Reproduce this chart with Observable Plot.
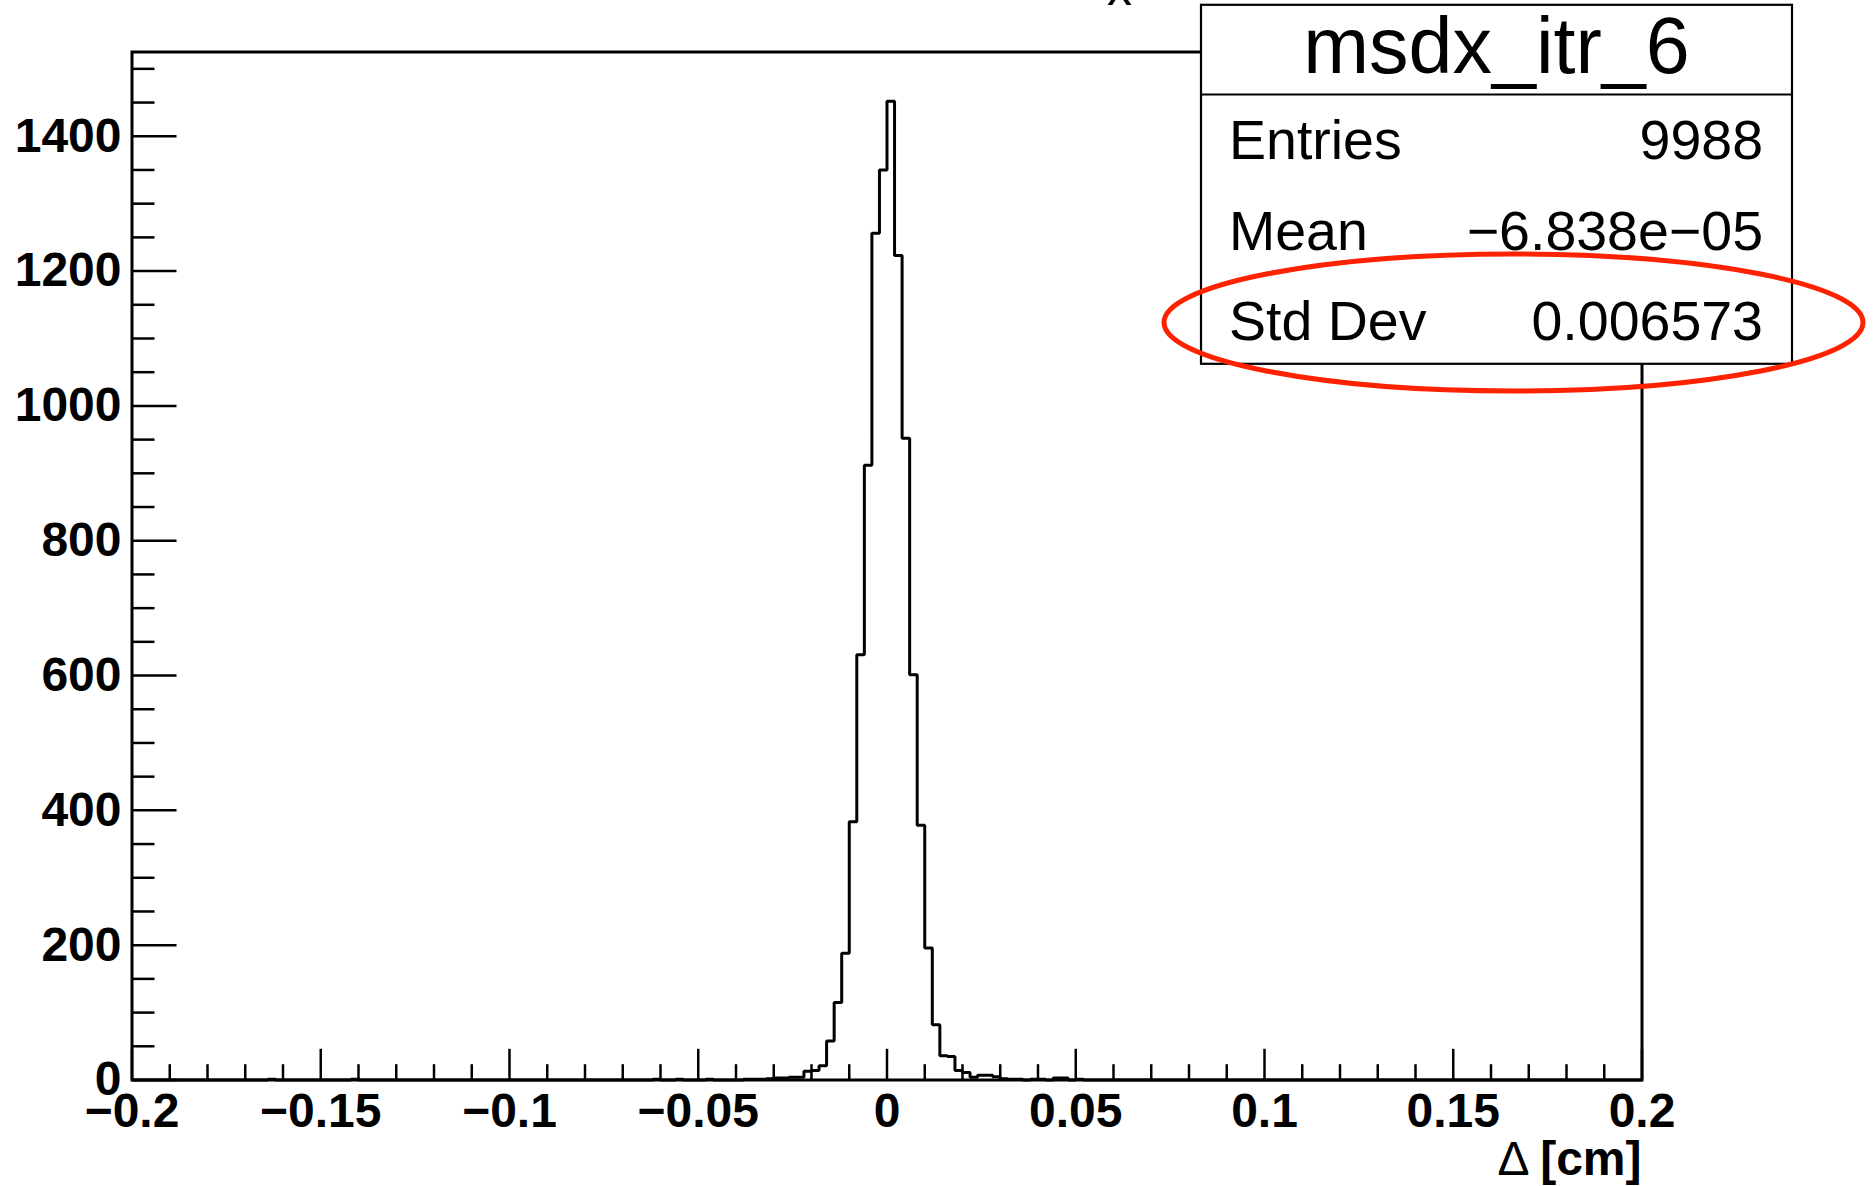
<!DOCTYPE html>
<html><head><meta charset="utf-8">
<script src="https://cdn.jsdelivr.net/npm/d3@7"></script>
<script src="https://cdn.jsdelivr.net/npm/@observablehq/plot@0.6"></script>
<style>
html,body{margin:0;padding:0;background:#fff;}
#chart svg{display:block;}
</style></head><body><div id="chart"></div>
<script>
// ---- data (bin width 0.002 cm) ----
const binLowEdges = [-0.164,-0.142,-0.062,-0.056,-0.048,-0.038,-0.036,-0.034,-0.032,-0.030,-0.028,-0.026,-0.024,-0.022,-0.020,-0.018,-0.016,-0.014,-0.012,-0.010,-0.008,-0.006,-0.004,-0.002,0.000,0.002,0.004,0.006,0.008,0.010,0.012,0.014,0.016,0.018,0.020,0.022,0.024,0.026,0.028,0.030,0.032,0.034,0.038,0.040,0.044,0.046,0.050];
const binCounts   = [1,1,1,1,1,1,1,1,2,3,3,4,4,13,14,21,58,115,188,383,631,912,1256,1350,1452,1223,952,601,378,196,82,36,35,14,11,4,7,7,5,2,1,1,1,1,3,3,1];
const xRange = [-0.2, 0.2];
const binWidth = 0.002;
const yMax = 1525;
const xMajorTicks = [-0.2,-0.15,-0.1,-0.05,0,0.05,0.1,0.15,0.2];
const xTickLabels = ["\u22120.2","\u22120.15","\u22120.1","\u22120.05","0","0.05","0.1","0.15","0.2"];
const yMajorTicks = [0,200,400,600,800,1000,1200,1400];
const yTickLabels = ["0","200","400","600","800","1000","1200","1400"];
const xAxisTitle = "[cm]";
const statsTitle = "msdx_itr_6";
const statsNames = ["Entries","Mean","Std Dev"];
const statsValues = ["9988","\u22126.838e\u221205","0.006573"];

// ---- build histogram outline ----
const nBins = Math.round((xRange[1]-xRange[0])/binWidth);
const counts = new Array(nBins).fill(0);
binLowEdges.forEach((e,i)=>{ counts[Math.round((e - xRange[0])/binWidth)] = binCounts[i]; });
const histPoints = counts.map((c,i)=>({x: xRange[0] + i*binWidth, y: c}));
histPoints.push({x: xRange[1], y: counts[nBins-1]});

const xMinor = d3.range(-20, 21).map(k=>k/100).filter(v=>Math.abs(Math.round(v*100)%5)!==0);
const yMinor = d3.range(0, 1501, 50).filter(v=>v%200!==0);

const W=1876, H=1186;
const mL=131.5, mT=51.5, mR=W-1641.5, mB=H-1079.5;
const frameW=W-mL-mR, frameH=H-mT-mB;
const font = "'Liberation Sans', Arial, Helvetica, sans-serif";

const plot = Plot.plot({
  width: W, height: H,
  marginLeft: mL, marginTop: mT, marginRight: mR, marginBottom: mB,
  x: {domain: xRange},
  y: {domain: [0, yMax]},
  style: {fontFamily: font, background: "white", color: "black"},
  marks: [
    Plot.line(histPoints, {x:"x", y:"y", curve:"step-after", stroke:"black", strokeWidth:3, strokeLinejoin:"miter", strokeLinecap:"butt"}),
    Plot.tickX(xMinor, {x:d=>d, stroke:"black", strokeWidth:2.5, insetTop: frameH-15.3}),
    Plot.tickX(xMajorTicks, {x:d=>d, stroke:"black", strokeWidth:2.5, insetTop: frameH-30.7}),
    Plot.tickY(yMinor, {y:d=>d, stroke:"black", strokeWidth:2.5, insetRight: frameW-23}),
    Plot.tickY(yMajorTicks, {y:d=>d, stroke:"black", strokeWidth:2.5, insetRight: frameW-45}),
    Plot.axisX(xMajorTicks, {tickSize:0, tickPadding:12.5, tickFormat: d=>xTickLabels[xMajorTicks.indexOf(d)], fontSize:48, fontWeight:"bold", label:null, fill:"black"}),
    Plot.axisY(yMajorTicks, {tickSize:0, tickPadding:10.5, tickFormat: d=>yTickLabels[yMajorTicks.indexOf(d)], fontSize:48, fontWeight:"bold", label:null, fill:"black"}),
    Plot.frame({stroke:"black", strokeWidth:3})
  ]
});
document.getElementById("chart").appendChild(plot);

const svg = d3.select(plot);
// partially visible title at the top edge
svg.append("text").attr("x",1107).attr("y",5).attr("font-family",font).attr("font-size",50)
  .attr("text-anchor","start").attr("fill","black").text("x");

// x-axis title
const xt = svg.append("text").attr("x",1641.5).attr("y",1175).attr("font-family",font)
  .attr("font-size",48).attr("font-weight","bold").attr("text-anchor","end").attr("fill","black");
xt.append("tspan").attr("font-weight","normal").text("\u0394 ");
xt.append("tspan").text(xAxisTitle);

// stats box
const g = svg.append("g");
g.append("rect").attr("x",1201).attr("y",4.8).attr("width",591).attr("height",359)
  .attr("fill","white").attr("stroke","black").attr("stroke-width",2.2);
g.append("line").attr("x1",1201).attr("x2",1792).attr("y1",94.5).attr("y2",94.5)
  .attr("stroke","black").attr("stroke-width",2.2);
g.append("text").attr("x",1496.5).attr("y",73).attr("font-family",font).attr("font-size",79)
  .attr("text-anchor","middle").attr("fill","black").text(statsTitle);
const rowY = [158.5, 250, 340];
statsNames.forEach((n,i)=>{
  g.append("text").attr("x",1229).attr("y",rowY[i]).attr("font-family",font).attr("font-size",55.5)
    .attr("text-anchor","start").attr("fill","black").text(n);
  g.append("text").attr("x",1763).attr("y",rowY[i]).attr("font-family",font).attr("font-size",55.5)
    .attr("text-anchor","end").attr("fill","black").text(statsValues[i]);
});
// red ellipse annotation
svg.append("ellipse").attr("cx",1513.5).attr("cy",322.5).attr("rx",349.5).attr("ry",68.5)
  .attr("fill","none").attr("stroke","#ff2200").attr("stroke-width",5);
</script>
</body></html>
